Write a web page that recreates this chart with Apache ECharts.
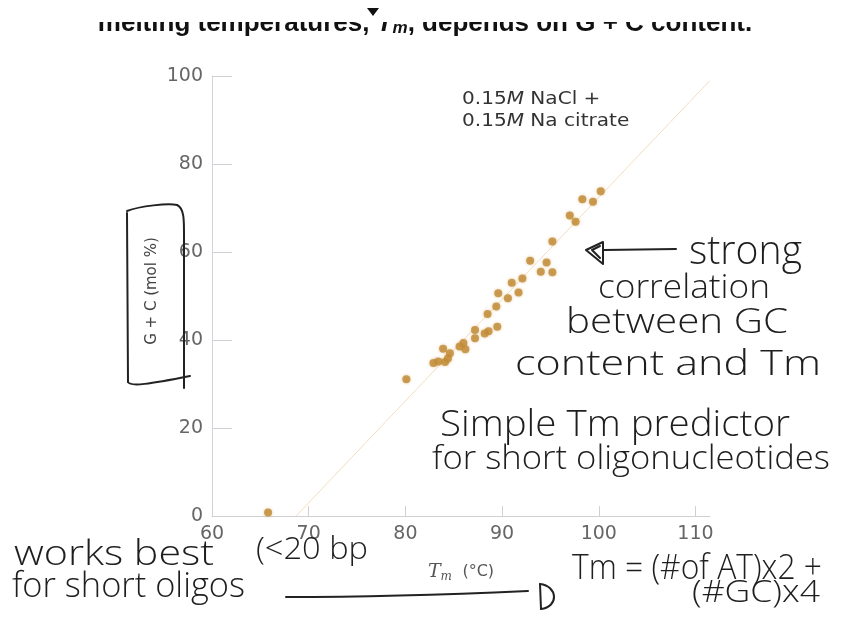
<!DOCTYPE html>
<html>
<head>
<meta charset="utf-8">
<script src="https://cdn.jsdelivr.net/npm/echarts@6/dist/echarts.min.js"></script>
<style>
  html, body { margin: 0; padding: 0; background: #ffffff; }
  #chart { width: 856px; height: 634px; }
</style>
</head>
<body>
<div id="chart"></div>
<script>
// Melting temperature (°C) and G + C content (mol %) of the DNA samples
const meltTemp = [65.8, 80.1, 82.9, 83.4, 83.9, 84.4, 84.6, 84.1, 85.6, 86.0, 86.2,
                  87.2, 87.2, 88.2, 88.6, 89.5, 88.5, 89.4, 89.6, 90.6, 91.0, 91.7,
                  92.1, 92.9, 94.6, 94.0, 95.2, 95.2, 97.0, 97.6, 98.3, 99.4, 100.2];
const gcContent = [0.8, 31.1, 34.8, 35.1, 38.0, 35.8, 37.0, 35.0, 38.5, 39.3, 37.9,
                   42.3, 40.4, 41.5, 42.0, 43.0, 45.9, 47.6, 50.6, 49.5, 53.0, 50.8,
                   54.0, 58.0, 57.6, 55.5, 55.4, 62.4, 68.3, 66.9, 72.0, 71.4, 73.8];

// End points of the faint trend line
const trendTemp = [68.7, 111.5];
const trendGC = [0, 99];

// Tick labels
const xTicks = [60, 70, 80, 90, 100, 110];
const yTicks = [0, 20, 40, 60, 80, 100];

const chart = echarts.init(document.getElementById('chart'), null, { renderer: 'canvas' });

// Handwritten notes: text, left x, baseline y, width on the page, font size
const notes = [
  ['strong', 689, 265, 113, 40],
  ['correlation', 598, 299, 172, 33],
  ['between GC', 566, 334, 222, 34],
  ['content and Tm', 515, 376, 306, 34],
  ['Simple Tm predictor', 440, 437, 350, 36],
  ['for short oligonucleotides', 432, 470, 398, 33],
  ['works best', 14, 566, 200, 35],
  ['for short oligos', 12, 598, 233, 34],
  ['(<20 bp', 256, 560, 112, 32],
  ['Tm = (#of AT)x2 +', 572, 580, 250, 35],
  ['(#GC)x4', 692, 603, 128, 31]
];
const handFont = '"Open Sans", "DejaVu Sans", sans-serif';
const measureCtx = document.createElement('canvas').getContext('2d');

const noteElements = notes.map(([text, x, base, w, size]) => {
  measureCtx.font = `300 ${size}px ${handFont}`;
  const natural = measureCtx.measureText(text).width;
  return {
    type: 'text',
    x: x, y: base + 0.18 * size,
    scaleX: w / natural,
    z: 100,
    style: {
      text: text,
      fill: '#1e1e1e',
      fontSize: size,
      fontWeight: 300,
      fontFamily: handFont,
      textAlign: 'left',
      textVerticalAlign: 'bottom'
    }
  };
});

// Pen strokes drawn by hand over the figure
const pen = () => ({ stroke: '#222', lineWidth: 2, fill: null, lineCap: 'round', lineJoin: 'round' });
const seg = (pts) => ({ type: 'polyline', z: 100, shape: { points: pts }, style: pen() });
const curve = (x1, y1, cx1, cy1, cx2, cy2, x2, y2) => ({
  type: 'bezierCurve', z: 100,
  shape: { x1, y1, cpx1: cx1, cpy1: cy1, cpx2: cx2, cpy2: cy2, x2, y2 },
  style: pen()
});

const strokes = [
  // bracket round the y-axis title
  curve(127, 211, 140, 206, 168, 203, 177, 205),
  curve(177, 205, 184, 208, 184, 220, 184, 232),
  seg([[184, 232], [184, 388]]),
  seg([[127, 213], [128, 382]]),
  curve(128, 382, 130, 387, 150, 384, 190, 376),
  // arrow pointing at the data
  seg([[604, 250], [676, 249]]),
  seg([[603, 242], [586, 250], [603, 264], [603, 242]]),
  seg([[600, 246], [592, 250], [600, 258]]),
  // underline and arrow head under the x-axis title
  curve(286, 597, 360, 597, 460, 594, 528, 591),
  seg([[540, 584], [541, 609]]),
  curve(540, 584, 558, 586, 559, 607, 541, 609)
];

const option = {
  backgroundColor: '#ffffff',
  animation: false,
  grid: { left: 212, right: 146, top: 76, bottom: 118, outerBoundsMode: 'none' },
  xAxis: {
    type: 'value',
    min: 60, max: 111.5, interval: 10,
    axisLine: { show: true, lineStyle: { color: '#cfcfd4', width: 1 } },
    axisTick: { show: true, inside: true, length: 10, customValues: xTicks, lineStyle: { color: '#cfcfd4' } },
    axisLabel: {
      customValues: xTicks, margin: 9,
      color: '#666', fontSize: 19, fontFamily: '"DejaVu Sans", sans-serif'
    },
    splitLine: { show: false }
  },
  yAxis: {
    type: 'value',
    min: 0, max: 100, interval: 20,
    axisLine: { show: true, lineStyle: { color: '#d8d2dc', width: 1 } },
    axisTick: { show: true, inside: true, length: 20, customValues: yTicks, lineStyle: { color: '#cfcfd4' } },
    axisLabel: {
      customValues: yTicks, margin: 9,
      color: '#666', fontSize: 19, fontFamily: '"DejaVu Sans", sans-serif'
    },
    splitLine: { show: false }
  },
  series: [
    {
      type: 'line',
      data: trendTemp.map((t, i) => [t, trendGC[i]]),
      symbol: 'none',
      lineStyle: { color: '#f4ddbf', width: 1 },
      z: 1,
      silent: true
    },
    {
      type: 'scatter',
      data: meltTemp.map((t, i) => [t, gcContent[i]]),
      symbolSize: 8,
      itemStyle: {
        color: '#c08a35',
        shadowBlur: 3,
        shadowColor: 'rgba(200,150,60,0.6)'
      },
      z: 3
    }
  ],
  graphic: [
    // heading, partly hidden behind the toolbar strip
    {
      type: 'text', x: 425, y: 37, z: 10,
      style: {
        text: 'melting temperatures, {it|T}{sub|m}, depends on G + C content.',
        fill: '#111', fontSize: 26, fontWeight: 'bold',
        fontFamily: '"Liberation Sans", Arial, sans-serif',
        textAlign: 'center', textVerticalAlign: 'bottom',
        rich: {
          it: { fontStyle: 'italic', fontWeight: 'bold', fontSize: 26, fill: '#111' },
          sub: { fontStyle: 'italic', fontWeight: 'bold', fontSize: 17, fill: '#111', padding: [9, 0, 0, 0] }
        }
      }
    },
    { type: 'rect', z: 20, shape: { x: 0, y: 0, width: 856, height: 22 }, style: { fill: '#ffffff' } },
    { type: 'polygon', z: 21, shape: { points: [[367, 8], [379, 8], [373, 16]] }, style: { fill: '#111' } },
    // buffer conditions
    {
      type: 'text', x: 462, y: 111, z: 10, scaleX: 1.18,
      style: {
        text: '0.15{it|M} NaCl +\n0.15{it|M} Na citrate',
        fill: '#333', fontSize: 17, lineHeight: 22,
        fontFamily: '"DejaVu Sans", sans-serif',
        textAlign: 'left', textVerticalAlign: 'middle',
        rich: { it: { fontStyle: 'italic', fontSize: 17, fill: '#333', fontFamily: '"DejaVu Sans", sans-serif' } }
      }
    },
    // x-axis title
    {
      type: 'text', x: 461, y: 572, z: 10,
      style: {
        text: '{it|T}{sub|m} {rest|(°C)}',
        fill: '#555', fontSize: 16,
        textAlign: 'center', textVerticalAlign: 'middle',
        rich: {
          it: { fontStyle: 'italic', fontSize: 19, fill: '#555', fontFamily: '"DejaVu Serif", serif' },
          sub: { fontStyle: 'italic', fontSize: 12, fill: '#555', padding: [9, 0, 0, 0], fontFamily: '"DejaVu Serif", serif' },
          rest: { fontSize: 16, fill: '#555', fontFamily: '"DejaVu Sans", sans-serif', padding: [0, 0, 0, 6] }
        }
      }
    },
    // y-axis title
    {
      type: 'text', x: 152, y: 291, rotation: Math.PI / 2, z: 10,
      style: {
        text: 'G + C (mol %)',
        fill: '#444', fontSize: 15,
        fontFamily: '"DejaVu Sans", sans-serif',
        textAlign: 'center', textVerticalAlign: 'middle'
      }
    }
  ].concat(strokes, noteElements)
};

chart.setOption(option);
</script>
</body>
</html>
